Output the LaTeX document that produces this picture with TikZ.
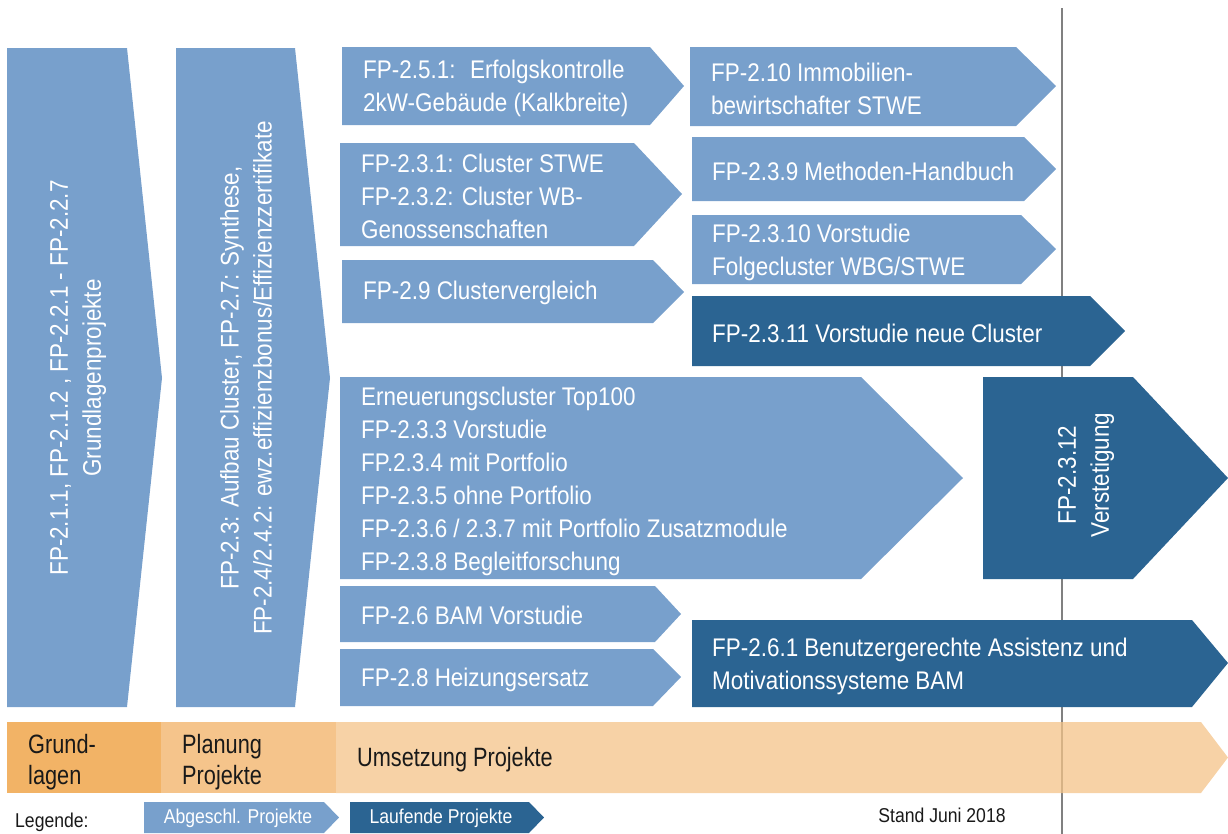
\documentclass[tikz,border=0pt]{standalone}
\usepackage{fontspec}
\setmainfont{Liberation Sans}[FakeStretch=0.88]
\newfontfamily\condfont{Liberation Sans}[FakeStretch=0.82]
\definecolor{lb}{RGB}{120,160,204}
\definecolor{db}{RGB}{43,100,146}
\definecolor{og1}{RGB}{242,179,102}
\definecolor{og2}{RGB}{245,196,139}
\definecolor{og3}{RGB}{244,195,136}
\definecolor{vline}{RGB}{128,128,128}
\definecolor{txtb}{RGB}{25,25,25}
% pentagon arrow: colour, x1, y1, x-right, x-tip, y-tip, y2
\newcommand{\parrow}[7]{\fill[#1] (#2,#3) -- (#4,#3) -- (#5,#6) -- (#4,#7) -- (#2,#7) -- cycle;}
\tikzset{
  btxt/.style={text=white, font=\fontsize{25.5bp}{33bp}\selectfont, align=left, anchor=west, inner sep=0pt},
  vtxt/.style={text=white, font=\fontsize{25.5bp}{33bp}\selectfont, align=center, anchor=center, inner sep=0pt, rotate=90},
  phtxt/.style={text=txtb, font=\condfont\fontsize{26.5bp}{31bp}\selectfont, align=left, anchor=west, inner sep=0pt},
  legtxt/.style={font=\fontsize{20bp}{24bp}\selectfont, inner sep=0pt},
}
\begin{document}
\begin{tikzpicture}[x=1bp, y=-1bp]
\useasboundingbox (0,0) rectangle (1228,834);
% time line
\coordinate (ltop) at (1062,8);
\coordinate (lbot) at (1062,834);
\draw[vline, line width=2.4bp] (ltop) -- (lbot);
% big left arrows
\fill[lb] (7,48) -- (127,48) -- (162,378) -- (127,707) -- (7,707) -- cycle;
\fill[lb] (176,48) -- (295,48) -- (330,378) -- (295,707) -- (176,707) -- cycle;
\node[vtxt] (grund) at (78,378) {FP-2.1.1, FP-2.1.2 , FP-2.2.1 - FP-2.2.7\\Grundlagenprojekte};
\node[vtxt] (aufbau) at (246,378) {FP-2.3: Aufbau Cluster, FP-2.7: Synthese,\\FP-2.4/2.4.2: ewz.effizienzbonus/Effizienzzertifikate};
% middle column
\parrow{lb}{342}{47}{650}{684}{86}{125}
\node[btxt] (p251) at (363,88) {FP-2.5.1:~ Erfolgskontrolle\\2kW-Gebäude (Kalkbreite)};
\parrow{lb}{340}{143}{634}{682}{194}{246}
\node[btxt] (p231) at (361,196) {FP-2.3.1: Cluster STWE\\FP-2.3.2: Cluster WB-\\Genossenschaften};
\parrow{lb}{342}{260}{653}{684}{292}{323}
\node[btxt] (p29) at (363,293) {FP-2.9 Clustervergleich};
% right column
\parrow{lb}{690}{47}{1016}{1056}{86}{126}
\node[btxt] (p210) at (711,89) {FP-2.10 Immobilien-\\bewirtschafter STWE};
\parrow{lb}{692}{137}{1024}{1056}{169}{201}
\node[btxt] (p239) at (712,171) {FP-2.3.9 Methoden-Handbuch};
\parrow{lb}{692}{215}{1021}{1056}{249}{284}
\node[btxt] (p2310) at (712,252) {FP-2.3.10 Vorstudie\\Folgecluster WBG/STWE};
\parrow{db}{692}{296}{1090}{1125}{331}{366}
\node[btxt] (p2311) at (712,333) {FP-2.3.11 Vorstudie neue Cluster};
% Erneuerungscluster
\parrow{lb}{340}{377}{861}{963}{478}{579}
\node[btxt] (ern) at (361,481) {Erneuerungscluster Top100\\FP-2.3.3 Vorstudie\\FP.2.3.4 mit Portfolio\\FP-2.3.5 ohne Portfolio\\FP-2.3.6 / 2.3.7 mit Portfolio Zusatzmodule\\FP-2.3.8 Begleitforschung};
\parrow{db}{983}{377}{1133}{1228}{478}{579}
\node[vtxt] (p2312) at (1086,475) {FP-2.3.12\\Verstetigung};
% lower rows
\parrow{lb}{340}{586}{655}{681}{614}{642}
\node[btxt] (p26) at (361,615) {FP-2.6 BAM Vorstudie};
\parrow{lb}{340}{649}{653}{681}{677}{706}
\node[btxt] (p28) at (361,680) {FP-2.8 Heizungsersatz};
\parrow{db}{692}{620}{1192}{1228}{663}{707}
\node[btxt] (p261) at (712,666) {FP-2.6.1 Benutzergerechte Assistenz und\\Motivationssysteme BAM};
% phase bar
\fill[og1] (7,722) rectangle (161,793);
\fill[og2] (161,722) rectangle (336,793);
\fill[og3, fill opacity=0.75] (336,722) -- (1201,722) -- (1228,757.5) -- (1201,793) -- (336,793) -- cycle;
\node[phtxt] (ph1) at (28,762) {Grund-\\lagen};
\node[phtxt] (ph2) at (182,762) {Planung\\Projekte};
\node[phtxt] (ph3) at (357,760) {Umsetzung Projekte};
% legend
\node[legtxt, text=txtb, anchor=west] (leg) at (15,822) {Legende:};
\parrow{lb}{144}{802}{324}{339}{817.5}{833}
\node[legtxt, text=white] (lega) at (238,818) {Abgeschl. Projekte};
\parrow{db}{350}{802}{529}{544}{817.5}{833}
\node[legtxt, text=white] (legl) at (441,818) {Laufende Projekte};
\node[legtxt, text=txtb] (stand) at (942,815) {Stand Juni 2018};
\end{tikzpicture}
\end{document}
